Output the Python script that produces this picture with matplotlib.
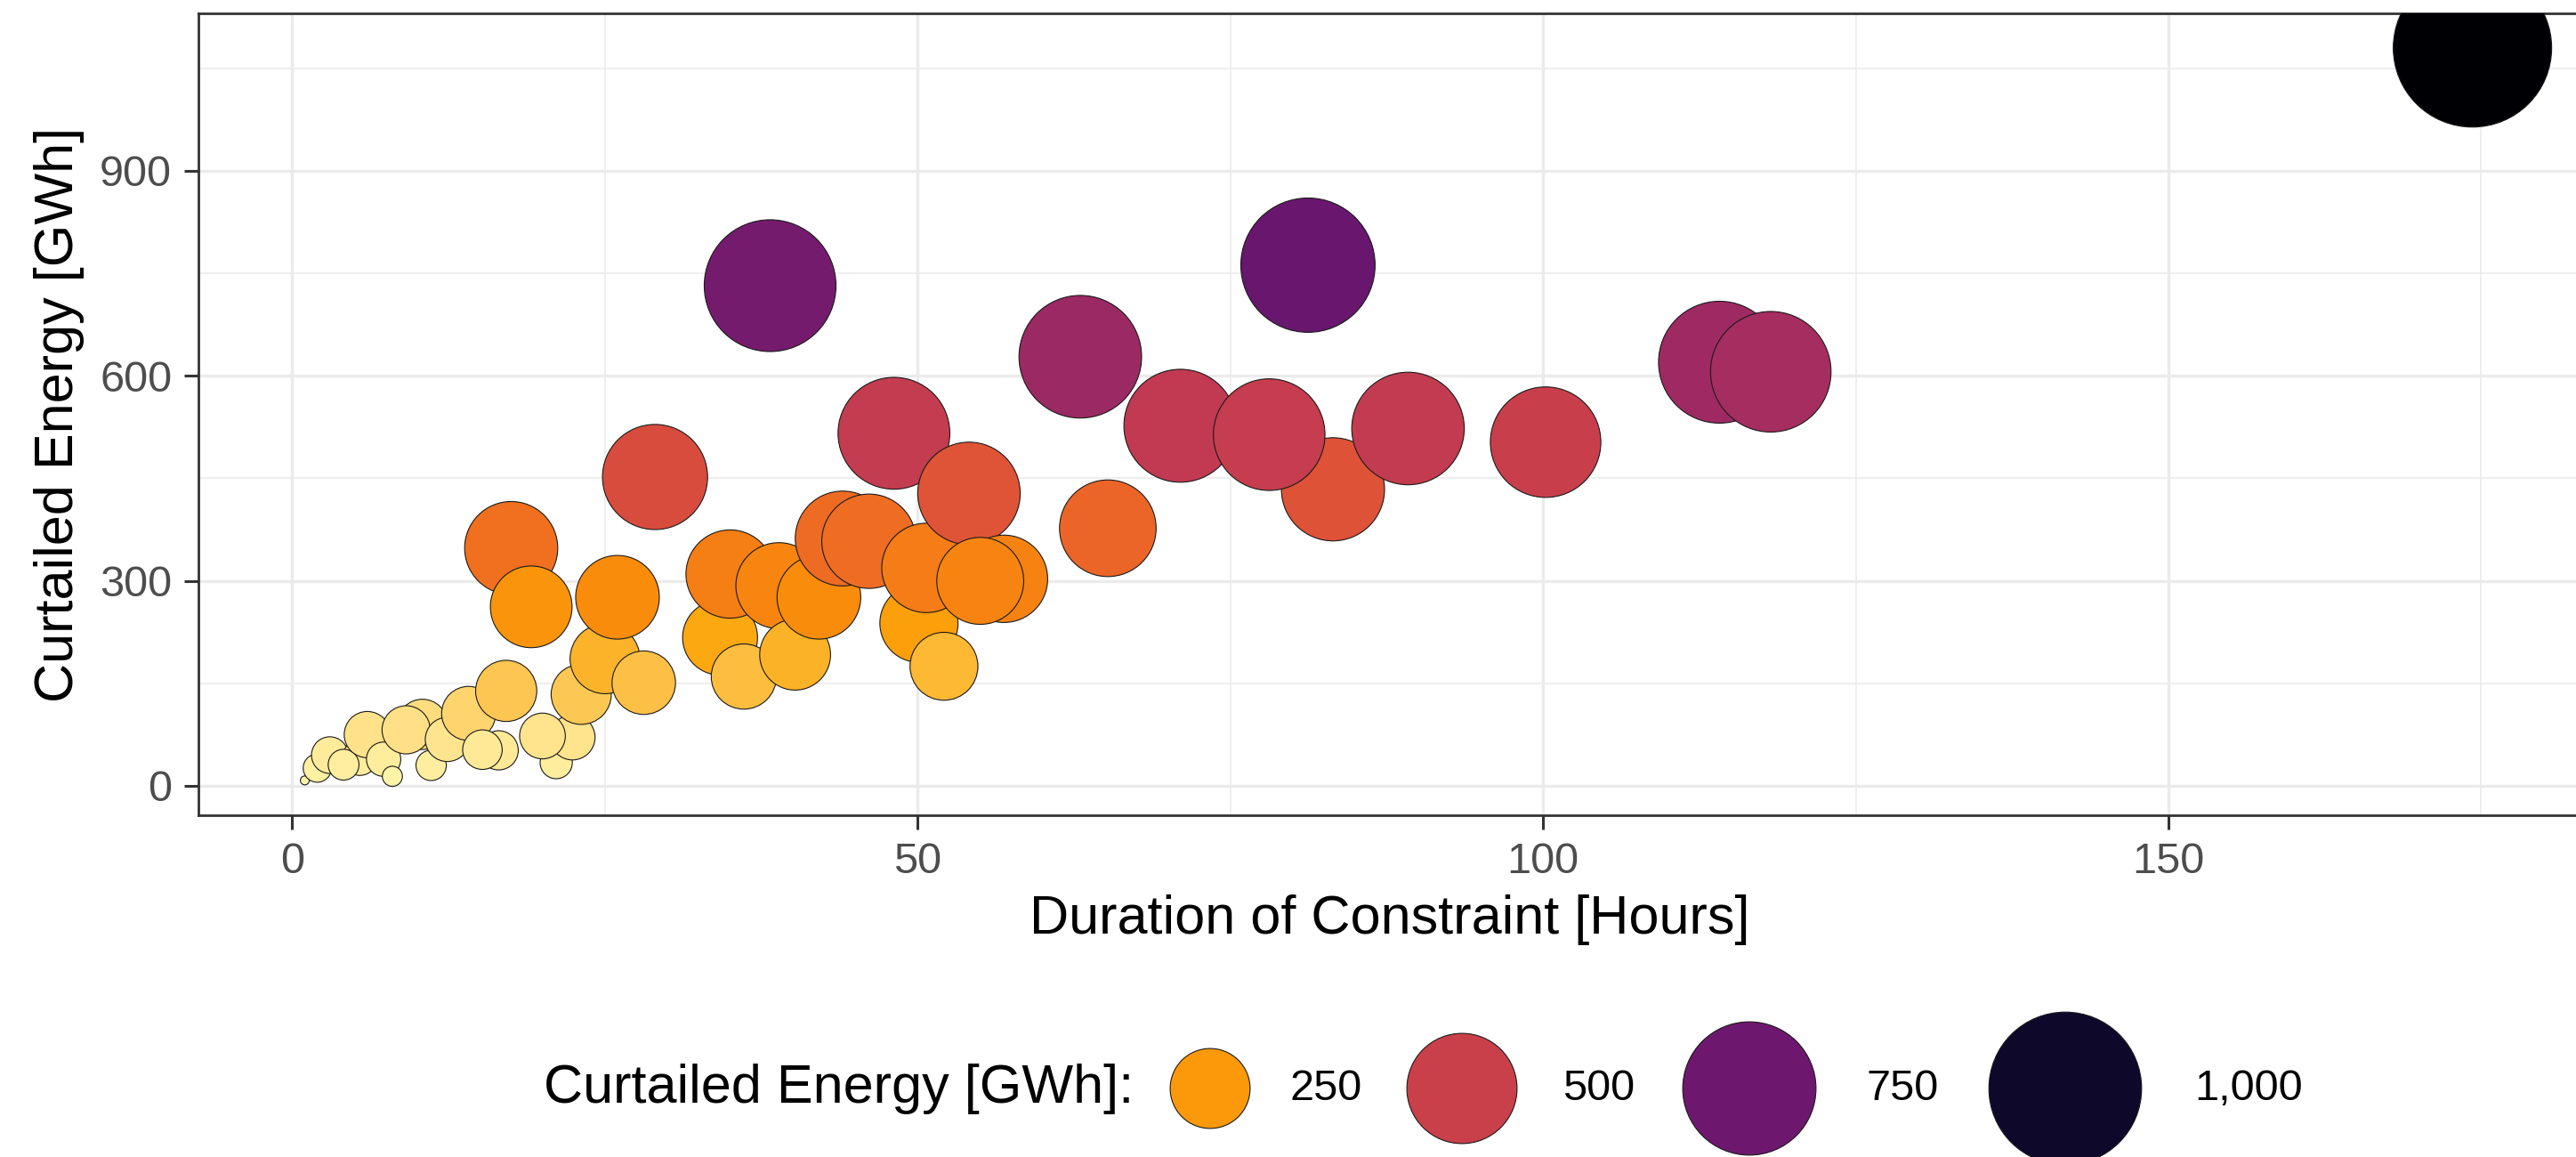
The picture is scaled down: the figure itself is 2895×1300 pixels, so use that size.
import numpy as np
import matplotlib
matplotlib.use('Agg')
import matplotlib.pyplot as plt
from matplotlib.colors import Normalize, LinearSegmentedColormap

# constraint events: duration [h] and curtailed energy [GWh]
hours = [1.0, 2.0, 3.0, 5.4, 4.1, 6.0, 7.3, 8.0, 10.4, 9.1, 11.1, 12.4, 14.1,
         16.5, 15.2, 17.1, 17.5, 19.1, 21.1, 22.4, 20.0, 23.1, 25.0, 26.0,
         28.1, 29.0, 34.2, 35.0, 36.1, 38.2, 38.9, 40.2, 42.1, 44.0, 46.1,
         48.1, 50.1, 50.7, 52.1, 54.1, 56.9, 55.0, 63.0, 65.2, 71.0, 83.2,
         78.1, 81.2, 89.2, 100.2, 114.1, 118.2, 174.3]
energy = [8, 26, 45, 41, 31, 75, 39, 14, 90, 82, 30, 68, 106,
          52, 53, 139, 348, 262, 34, 71, 73, 134, 186, 276,
          151, 452, 217, 310, 160, 732, 293, 192, 276, 362, 358,
          516, 238, 319, 175, 428, 303, 300, 628, 377, 527, 434,
          514, 762, 523, 503, 620, 606, 1080]

legend_values = [250, 500, 750, 1000]
legend_labels = ['250', '500', '750', '1,000']
x_ticks = [0, 50, 100, 150]
y_ticks = [0, 300, 600, 900]

plt.rcParams['font.family'] = ['Liberation Sans', 'DejaVu Sans']

hours = np.array(hours)
energy = np.array(energy)
vmin, vmax = energy.min(), energy.max()
norm = Normalize(vmin=vmin, vmax=vmax)

# inferno (reversed), with the pale end a little warmer like the original
inf = plt.get_cmap('inferno_r')
anchors = [(0.0, '#FFF4AA'), (0.06, '#FFE38C'), (0.12, '#FDC652')]
anchors += [(t, inf(t)) for t in np.linspace(0.2, 1.0, 17)]
cmap = LinearSegmentedColormap.from_list('inferno_warm', anchors)


def marker_size(v):
    # ggplot-like area scale: diameter in px at dpi 100 -> points^2
    d_px = 10 + 168 * np.sqrt(np.clip((np.asarray(v) - vmin) / (vmax - vmin), 0, None))
    return (d_px * 0.72) ** 2


W, H = 2895, 1300
fig = plt.figure(figsize=(W / 100, H / 100), dpi=100)
ax = fig.add_axes([223 / W, (H - 916) / H, (2900 - 223) / W, (916 - 15) / H])

ax.scatter(hours, energy, s=marker_size(energy), c=energy, cmap=cmap, norm=norm,
           edgecolors='#1a1a1a', linewidths=0.8, zorder=3)

ax.set_xlim((223 - 328.5) / 14.057, (2900 - 328.5) / 14.057)
ax.set_ylim((883 - 916) / 0.7678, (883 - 15) / 0.7678)

ax.set_xticks(x_ticks)
ax.set_yticks(y_ticks)
ax.set_xticks([25, 75, 125, 175], minor=True)
ax.set_yticks([150, 450, 750, 1050], minor=True)
ax.grid(which='major', color='#EBEBEB', linewidth=2.4, zorder=0)
ax.grid(which='minor', color='#EBEBEB', linewidth=1.2, zorder=0)
ax.set_axisbelow(True)
ax.tick_params(which='major', length=11.5, width=2.2, color='#333333',
               labelsize=35, labelcolor='#4D4D4D', pad=10)
ax.tick_params(which='minor', length=0)
for sp in ax.spines.values():
    sp.set_color('#333333')
    sp.set_linewidth(2)

ax.set_xlabel('Duration of Constraint [Hours]', fontsize=44, labelpad=10)
ax.set_ylabel('Curtailed Energy [GWh]', fontsize=44, labelpad=12)

# legend drawn in pixel coordinates
lax = fig.add_axes([0, 0, 1, 250 / H])
lax.set_xlim(0, W)
lax.set_ylim(1300, 1050)
lax.axis('off')
leg_x = [1360, 1643, 1966, 2321]
lab_x = [1450, 1756, 2098, 2466]
lax.scatter(leg_x, [1223] * 4, s=marker_size(legend_values), c=legend_values,
            cmap=cmap, norm=norm, edgecolors='#1a1a1a', linewidths=0.8, clip_on=False)
for lx, lab in zip(lab_x, legend_labels):
    lax.text(lx, 1223, lab, fontsize=35, ha='left', va='center')
lax.text(1274, 1223, 'Curtailed Energy [GWh]:', fontsize=44, ha='right', va='center')

fig.savefig('out.png', dpi=100)
